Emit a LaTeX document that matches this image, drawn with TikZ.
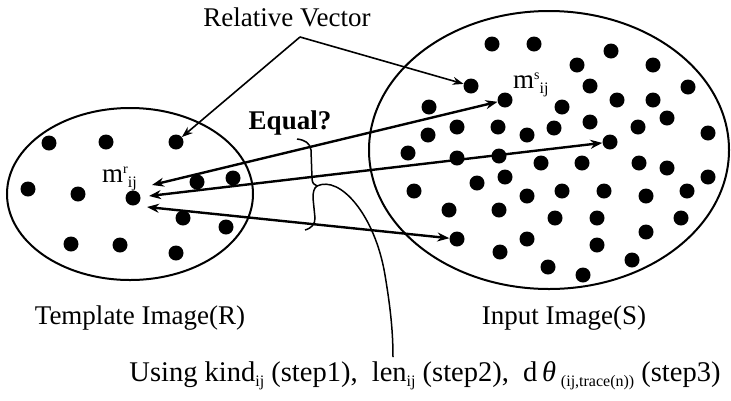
\documentclass[tikz,border=0pt]{standalone}
\usepackage{fontspec}
\setmainfont{Liberation Serif}
\usetikzlibrary{arrows.meta,shapes.geometric}
\newcommand{\sbx}[1]{\raisebox{-5pt}{\fontsize{16}{16}\selectfont #1}}
\newcommand{\spx}[1]{\raisebox{9pt}{\fontsize{14}{14}\selectfont #1}}
\begin{document}
\begin{tikzpicture}[x=1pt,y=-1pt,
  dot/.style={circle,fill=black,inner sep=0pt,minimum size=15pt},
  region/.style={draw=black,line width=2pt,ellipse,inner sep=0pt},
  vec/.style={line width=2.4pt,{Stealth[length=12pt,width=9pt]}-{Stealth[length=12pt,width=9pt]}},
  ptr/.style={line width=1.6pt,-{Stealth[length=11pt,width=8pt]}},
  lbl/.style={font=\fontsize{27}{32}\selectfont,inner sep=0pt},
  thinline/.style={line width=1.5pt}]
\useasboundingbox (0,0) rectangle (731,400);
% regions
\node[region,minimum width=246pt,minimum height=172pt] (R) at (130,194) {};
\node[region,minimum width=360pt,minimum height=278pt] (S) at (549,150) {};
% template dots
\foreach \n/\x/\y in {1/49/143,2/106/142,3/176/142,4/28/189,5/78/194,6/133/198,7/197/182,8/233/178,9/183/218,10/226/227,11/71/244,12/120/245,13/176/253}
  \node[dot] (r\n) at (\x,\y) {};
% input dots
\foreach \n/\x/\y in {1/492/44,2/534/44,3/611/51,4/577/65,5/653/65,6/471/86,7/590/86,8/688/87,9/505/100,10/617/100,11/653/100,12/429/107,13/562/107,14/667/118,15/457/127,16/498/127,17/428/135,18/527/135,19/554/128,20/590/122,21/638/127,22/708/133,23/610/142,24/408/153,25/457/158,26/499/156,27/541/163,28/582/163,29/639/163,30/667/168,31/708/177,32/505/177,33/477/183,34/414/191,35/527/196,36/562/191,37/604/191,38/646/196,39/687/191,40/449/210,41/499/210,42/555/218,43/597/218,44/681/218,45/457/239,46/527/239,47/646/232,48/597/245,49/500/252,50/632/260,51/548/267,52/583/275}
  \node[dot] (s\n) at (\x,\y) {};
% labels
\node[lbl] (tmpl) at (140,318) {Template Image(R)};
\node[lbl] (inp) at (564,318) {Input Image(S)};
\node[lbl,font=\fontsize{27}{32}\selectfont\bfseries] (eq) at (290,123) {Equal?};
\node[lbl] (rv) at (287,17) {Relative Vector};
\node[lbl,anchor=base west] (mr) at (102,182) {m\spx{r}\sbx{ij}};
\node[lbl,anchor=base west] (ms) at (513,88) {m\spx{s}\sbx{ij}};
\node[lbl,font=\fontsize{28.5}{32}\selectfont] (use) at (425,376) {Using kind\sbx{ij} (step1),\ \ len\sbx{ij} (step2),\ \ d\,\textit{θ}\,\sbx{(ij,trace(n))} (step3)};
% relative vectors
\coordinate (ta) at (152,185);
\coordinate (tb) at (149,196);
\coordinate (tc) at (147,207);
\draw[vec] (ta) -- (s9);
\draw[vec] (tb) -- (s23);
\draw[vec] (tc) -- (s45);
% pointers from label
\coordinate (apex) at (300,37);
\draw[ptr] (apex) -- (r3);
\draw[ptr] (apex) -- (s6);
% brace
\draw[thinline] (297,139) .. controls (305,140) and (310,143) .. (311,150) -- (312,178)
  .. controls (312,183) and (314,185) .. (317,186)
  .. controls (314,188) and (313,192) .. (313,198) -- (315,218)
  .. controls (315,224) and (312,228) .. (305,230);
\coordinate (bend) at (317,186);
\coordinate (cend) at (393,357);
\draw[thinline] (bend) .. controls (340,175) and (375,215) .. (385,275)
  .. controls (390,305) and (393,330) .. (cend);
\end{tikzpicture}
\end{document}
